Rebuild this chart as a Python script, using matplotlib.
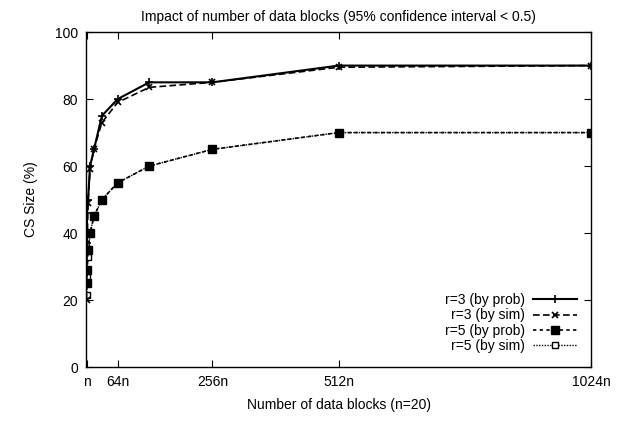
import numpy as np
import matplotlib.pyplot as plt

plt.rcParams['font.family'] = ['Liberation Sans', 'DejaVu Sans']
plt.rcParams['font.size'] = 10

# number of data blocks, in units of n
bloques = [1, 2, 4, 8, 16, 32, 64, 128, 256, 512, 1024]

r3_prob = [37, 46, 50, 60, 65, 75, 80, 85, 85, 90, 90]
r3_sim = [20, 35.5, 49, 59, 65, 73, 79, 83.5, 85, 89.5, 90]
r5_prob = [25, 29, 35, 40, 45, 50, 55, 60, 65, 70, 70]
r5_sim = [21.5, 27, 33, 40, 45, 50, 55, 60, 65, 70, 70]

ticks_x = [1, 64, 256, 512, 1024]
etiquetas_x = ["n", "64n", "256n", "512n", "1024n"]

fig = plt.figure(figsize=(6.33, 4.22), dpi=100)
ax = fig.add_axes([0.136, 0.130, 0.798, 0.794])

ax.plot(bloques, r3_prob, color="black", linestyle="-", linewidth=1.5,
        marker="+", markersize=6, markeredgewidth=1.2, label="r=3 (by prob)",
        zorder=4)
ax.plot(bloques, r3_sim, color="black", linestyle=(0, (4, 2)), linewidth=1.2,
        marker="x", markersize=5, markeredgewidth=1.2, label="r=3 (by sim)",
        zorder=4)
ax.plot(bloques, r5_prob, color="black", linestyle=(0, (2, 2)), linewidth=1.2,
        marker="s", markersize=6, label="r=5 (by prob)", zorder=3)
ax.plot(bloques, r5_sim, color="black", linestyle=(0, (1, 1)), linewidth=1.0,
        marker="s", markersize=5, markerfacecolor="white", markeredgewidth=1.0,
        label="r=5 (by sim)", zorder=2)

ax.set_xlim(0, 1024)
ax.set_ylim(0, 100)
ax.set_xticks(ticks_x)
ax.set_xticklabels(etiquetas_x)
ax.set_yticks([0, 20, 40, 60, 80, 100])
ax.tick_params(direction="in", top=True, right=True, length=5, width=0.8, pad=6)
for s in ax.spines.values():
    s.set_linewidth(1.0)

ax.set_title("Impact of number of data blocks (95% confidence interval < 0.5)",
             fontsize=10, pad=8)
ax.set_xlabel("Number of data blocks (n=20)", labelpad=6)
ax.set_ylabel("CS Size (%)", labelpad=12)

leg = ax.legend(loc="lower right", frameon=False, markerfirst=False,
                handlelength=3.2, handletextpad=0.6, labelspacing=0.1,
                borderaxespad=0.6, fontsize=10)
for t in leg.get_texts():
    t.set_ha("right")
leg._legend_box.align = "right"

fig.savefig("out.png", dpi=100)
